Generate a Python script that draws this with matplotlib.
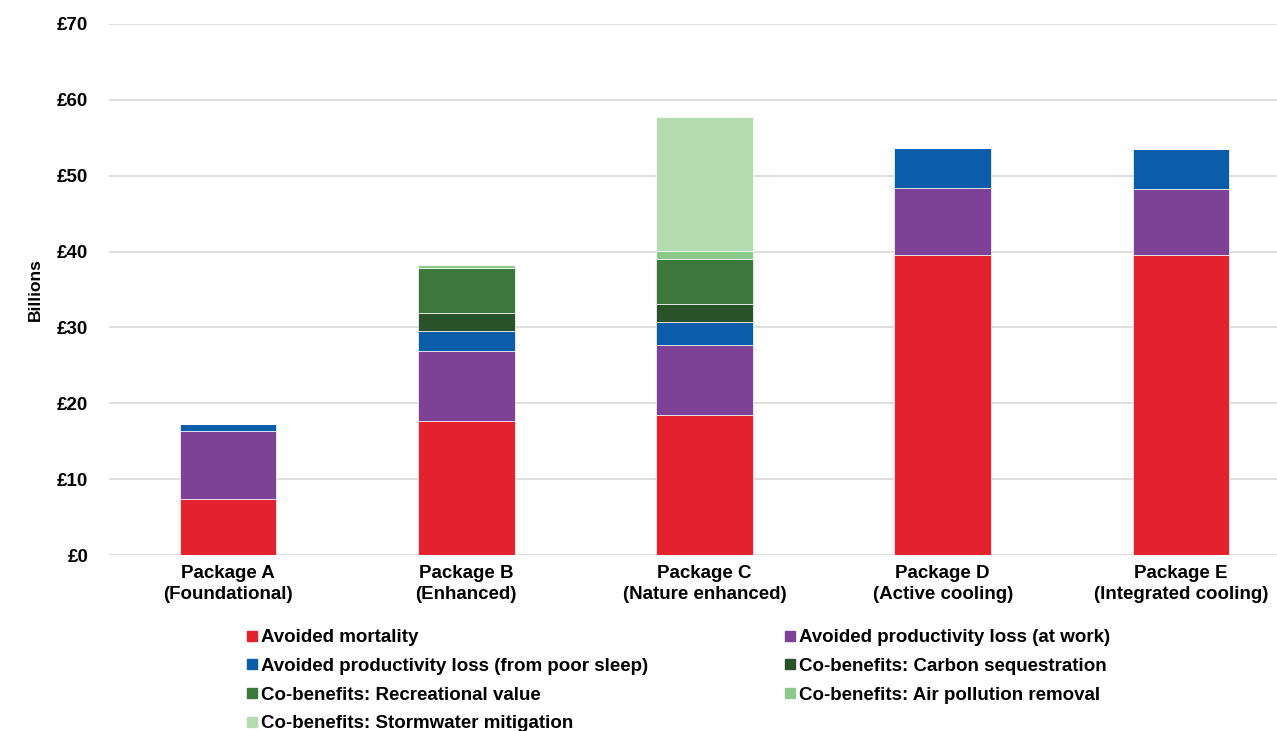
import matplotlib
matplotlib.use("Agg")
import matplotlib.pyplot as plt
from matplotlib.lines import Line2D
import numpy as np

plt.rcParams['font.family'] = ['Liberation Sans', 'DejaVu Sans']
plt.rcParams['font.weight'] = 'bold'

packages = ["Package A\n(Foundational)", "Package B\n(Enhanced)", "Package C\n(Nature enhanced)",
            "Package D\n(Active cooling)", "Package E\n(Integrated cooling)"]

series_names = [
    "Avoided mortality",
    "Avoided productivity loss (at work)",
    "Avoided productivity loss (from poor sleep)",
    "Co-benefits: Carbon sequestration",
    "Co-benefits: Recreational value",
    "Co-benefits: Air pollution removal",
    "Co-benefits: Stormwater mitigation",
]

mortality = [7.4, 17.7, 18.45, 39.55, 39.55]
work_loss = [8.95, 9.2, 9.25, 8.8, 8.7]
sleep_loss = [0.9, 2.65, 3.05, 5.3, 5.3]
carbon = [0.0, 2.3, 2.3, 0.0, 0.0]
recreation = [0.0, 6.05, 6.0, 0.0, 0.0]
air_pollution = [0.0, 0.35, 1.05, 0.0, 0.0]
stormwater = [0.0, 0.0, 17.6, 0.0, 0.0]

colors = ["#e4222d", "#7d4196", "#0b5ca9", "#2a5229", "#3c783c", "#8dc98a", "#b5dcb0"]

yticks = [0, 10, 20, 30, 40, 50, 60, 70]
ytick_labels = ["£0", "£10", "£20", "£30", "£40", "£50", "£60", "£70"]

FS = 13.5

fig = plt.figure(figsize=(12.77, 7.31), dpi=100)
ax = fig.add_axes([109 / 1277, 176 / 731, 1191 / 1277, 531 / 731])

x = np.arange(len(packages))
bottom = np.zeros(len(packages))
all_series = [mortality, work_loss, sleep_loss, carbon, recreation, air_pollution, stormwater]
for vals, col in zip(all_series, colors):
    vals = np.array(vals)
    ax.bar(x, vals, width=0.405, bottom=bottom, color=col, edgecolor="white",
           linewidth=0.5, zorder=3)
    bottom += vals

ax.set_xlim(-0.5, 4.5)
ax.set_ylim(0, 70)
ax.set_yticks(yticks)
ax.set_yticklabels(ytick_labels, fontsize=FS, fontweight='bold')
ax.set_xticks(x)
ax.set_xticklabels(packages, fontsize=FS, fontweight='bold', linespacing=1.3)
ax.tick_params(axis='both', length=0)
ax.tick_params(axis='y', pad=15)
ax.tick_params(axis='x', pad=7)
ax.grid(axis='y', color="#d9d9d9", linewidth=1.2, zorder=0)
for s in ax.spines.values():
    s.set_visible(False)
ax.set_ylabel("Billions", fontsize=12.5, fontweight='bold', labelpad=10)

handles = [Line2D([0], [0], marker='s', linestyle='none', markersize=7,
                  markerfacecolor=c, markeredgecolor=c) for c in colors]
order = [0, 2, 4, 6, 1, 3, 5]
leg = fig.legend([handles[i] for i in order], [series_names[i] for i in order],
                 ncol=2, loc='upper left', bbox_to_anchor=(247 / 1277, 1 - 629 / 731),
                 frameon=False, fontsize=FS, handlelength=0.55, handletextpad=0.2,
                 columnspacing=7.3, labelspacing=0.62, borderaxespad=0, borderpad=0)
for t in leg.get_texts():
    t.set_fontweight('bold')

fig.savefig("out.png", dpi=100)
